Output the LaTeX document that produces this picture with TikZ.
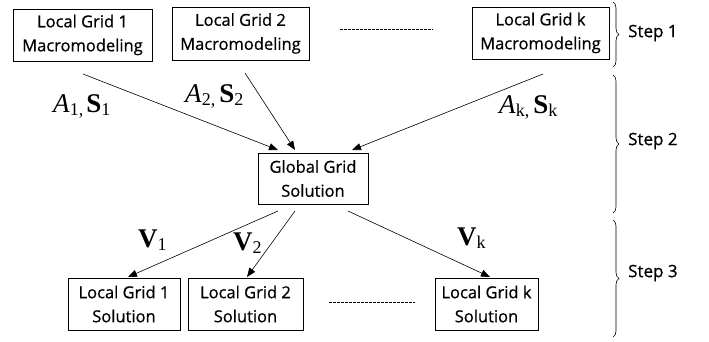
\documentclass[tikz,border=0pt]{standalone}
\usepackage{fontspec}
\setmainfont{Liberation Serif}
\newfontfamily\boxfont{Open Sans}[FakeBold=0.7]
\usetikzlibrary{arrows.meta,decorations.pathreplacing}
\tikzset{
  gbox/.style={draw, line width=0.8pt, inner sep=0pt, align=center,
    font=\boxfont\fontsize{16.5}{24}\selectfont},
  arr/.style={line width=0.6pt, -{Triangle[length=9pt,width=7pt]}},
  dashline/.style={line width=0.5pt, dash pattern=on 3pt off 1pt},
  bracepath/.style={decorate, decoration={brace, amplitude=6pt}, line width=0.6pt},
  steplabel/.style={anchor=west, inner sep=0pt, font=\boxfont\fontsize{17}{19}\selectfont},
  mlabel/.style={anchor=base west, inner sep=0pt, font=\fontsize{27}{29}\selectfont},
  vlabel/.style={anchor=base west, inner sep=0pt, font=\fontsize{27}{29}\selectfont}
}
\newcommand{\sbs}[1]{\raisebox{-0.3ex}{\fontsize{18}{19}\selectfont #1}}
\begin{document}
\begin{tikzpicture}[x=1pt,y=-1pt]
\useasboundingbox (0,0) rectangle (709,341);
% boxes
\node[gbox, minimum width=139pt, minimum height=52pt] (m1) at (82.5,35) {Local Grid 1\\Macromodeling};
\node[gbox, minimum width=137pt, minimum height=53pt] (m2) at (240.5,33.5) {Local Grid 2\\Macromodeling};
\node[gbox, minimum width=137pt, minimum height=52pt] (mk) at (540.5,33) {Local Grid k\\Macromodeling};
\node[gbox, minimum width=110pt, minimum height=51pt] (g) at (313,178.5) {Global Grid\\Solution};
\node[gbox, minimum width=112pt, minimum height=52pt] (s1) at (124,304) {Local Grid 1\\Solution};
\node[gbox, minimum width=115pt, minimum height=52pt] (s2) at (245.5,304) {Local Grid 2\\Solution};
\node[gbox, minimum width=103pt, minimum height=52pt] (sk) at (486.5,304) {Local Grid k\\Solution};
% arrow coordinates
\coordinate (a1s) at (83,74);
\coordinate (a1e) at (278,150);
\coordinate (a2s) at (245,73);
\coordinate (a2e) at (295,150);
\coordinate (aks) at (543,74);
\coordinate (ake) at (352,150);
\coordinate (v1s) at (278,211);
\coordinate (v1e) at (128,277);
\coordinate (v2s) at (295,211);
\coordinate (v2e) at (247,277);
\coordinate (vks) at (348,211);
\coordinate (vke) at (490,277);
\draw[arr] (a1s) -- (a1e);
\draw[arr] (a2s) -- (a2e);
\draw[arr] (aks) -- (ake);
\draw[arr] (v1s) -- (v1e);
\draw[arr] (v2s) -- (v2e);
\draw[arr] (vks) -- (vke);
% labels
\node[mlabel] (la1) at (53,112) {\textit{A}\sbs{1,}\hspace{3pt}\textbf{S}\sbs{1}};
\node[mlabel] (la2) at (185,102) {\textit{A}\sbs{2,}\hspace{4pt}\textbf{S}\sbs{2}};
\node[mlabel] (lak) at (499,113) {\textit{A}\sbs{k,}\hspace{4pt}\textbf{S}\sbs{k}};
\node[vlabel] (lv1) at (138,247) {\textbf{V}\sbs{1}};
\node[vlabel] (lv2) at (233,250) {\textbf{V}\sbs{2}};
\node[vlabel] (lvk) at (457,245) {\textbf{V}\sbs{k}};
% dashes
\coordinate (d1a) at (340,29);
\coordinate (d1b) at (433,29);
\coordinate (d2a) at (329,302);
\coordinate (d2b) at (415,302);
\draw[dashline] (d1a) -- (d1b);
\draw[dashline] (d2a) -- (d2b);
% braces
\coordinate (b1a) at (613,2);
\coordinate (b1b) at (613,67);
\coordinate (b2a) at (613,75);
\coordinate (b2b) at (613,213);
\coordinate (b3a) at (613,220);
\coordinate (b3b) at (613,337);
\draw[bracepath] (b1a) -- (b1b);
\draw[bracepath] (b2a) -- (b2b);
\draw[bracepath] (b3a) -- (b3b);
\node[steplabel] (st1) at (628,33) {Step 1};
\node[steplabel] (st2) at (628,141) {Step 2};
\node[steplabel] (st3) at (628,273) {Step 3};
\end{tikzpicture}
\end{document}
